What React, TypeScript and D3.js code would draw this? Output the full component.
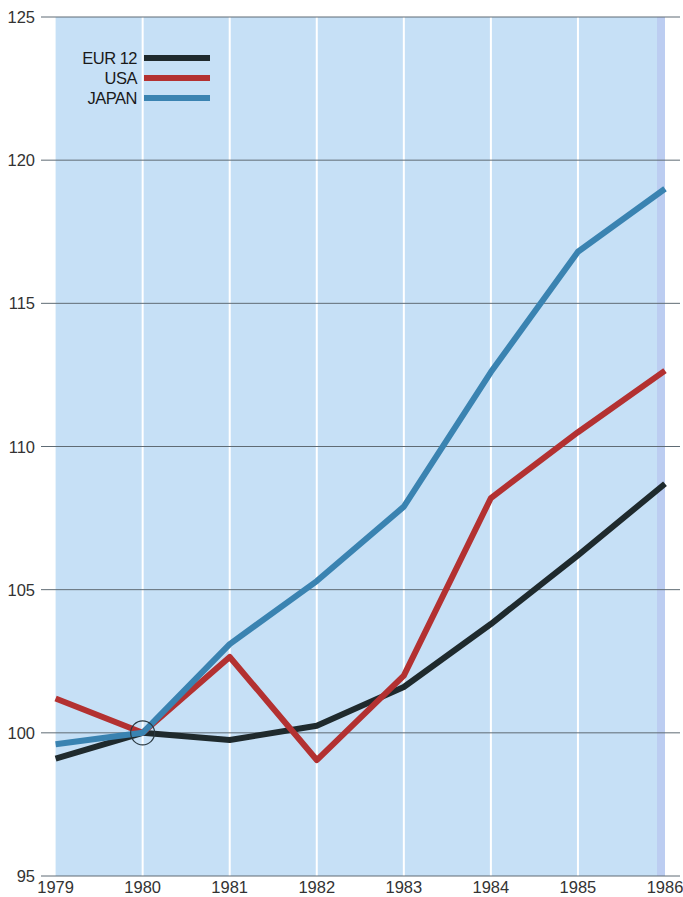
import React from "react";
import * as d3 from "d3";

const years = [1979, 1980, 1981, 1982, 1983, 1984, 1985, 1986];
const eur12 = [99.1, 100, 99.75, 100.25, 101.6, 103.8, 106.2, 108.7];
const usa = [101.2, 100, 102.65, 99.05, 102.0, 108.2, 110.5, 112.65];
const japan = [99.6, 100, 103.1, 105.3, 107.9, 112.6, 116.8, 119.0];
const yTicks = [95, 100, 105, 110, 115, 120, 125];
const seriesNames = ["EUR 12", "USA", "JAPAN"];
const seriesColors = ["#1f2a2d", "#b33131", "#3a83b1"];

export default function App() {
  const W = 683, H = 897;
  const x = d3.scaleLinear().domain([1979, 1986]).range([55.6, 665]);
  const y = d3.scaleLinear().domain([95, 125]).range([876, 17]);
  const series = [eur12, usa, japan];
  const line = d3
    .line<number>()
    .x((_, i) => x(years[i]))
    .y((d) => y(d));
  const font = "'Liberation Sans', Arial, sans-serif";
  return (
    <svg
      width={W}
      height={H}
      style={{ position: "absolute", left: 0, top: 0, background: "#fff" }}
    >
      <rect x={x(1979)} y={y(125)} width={x(1986) - x(1979)} height={y(95) - y(125)} fill="#c6e0f6" />
      <rect x={x(1986) - 8} y={y(125)} width={8} height={y(95) - y(125)} fill="#bccdf1" />
      {years.slice(1, -1).map((yr) => (
        <line key={yr} x1={x(yr)} x2={x(yr)} y1={y(125)} y2={y(95)} stroke="#ffffff" strokeWidth={2} />
      ))}
      {yTicks.map((t) => (
        <g key={t}>
          <line x1={41} x2={680} y1={y(t)} y2={y(t)} stroke="#5f6b74" strokeWidth={1} />
          <text x={35} y={y(t) + 6} textAnchor="end" fontFamily={font} fontSize={16.5} fill="#333">
            {t}
          </text>
        </g>
      ))}
      {years.map((yr) => (
        <text key={yr} x={x(yr)} y={893} textAnchor="middle" fontFamily={font} fontSize={16.5} fill="#333">
          {yr}
        </text>
      ))}
      {series.map((s, i) => (
        <path key={i} d={line(s) || ""} fill="none" stroke={seriesColors[i]} strokeWidth={6} strokeLinejoin="round" />
      ))}
      <circle cx={x(1980)} cy={y(100)} r={12} fill="none" stroke="#2a3840" strokeWidth={1.2} />
      {seriesNames.map((n, i) => (
        <g key={n}>
          <text x={137} y={64 + i * 20} textAnchor="end" fontFamily={font} fontSize={16.5} fill="#1a1a1a" letterSpacing={-0.5}>
            {n}
          </text>
          <line x1={144} x2={210} y1={58 + i * 20} y2={58 + i * 20} stroke={seriesColors[i]} strokeWidth={6} />
        </g>
      ))}
    </svg>
  );
}
